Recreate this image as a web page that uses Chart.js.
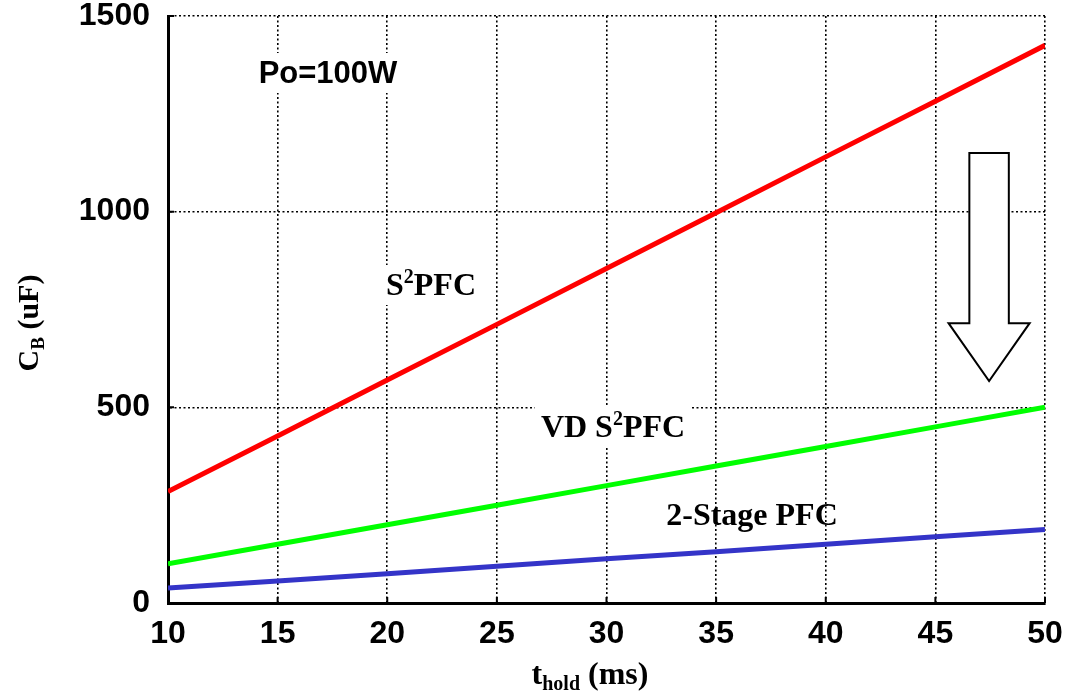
<!DOCTYPE html>
<html>
<head>
<meta charset="utf-8">
<script src="https://cdn.jsdelivr.net/npm/chart.js@4/dist/chart.umd.min.js"></script>
<style>
  html, body { margin: 0; padding: 0; background: #fff; }
  #wrap { width: 1071px; height: 694px; }
</style>
</head>
<body>
<div id="wrap"><canvas id="cb-chart" width="1071" height="694"></canvas></div>
<script>
// hold-up time (ms) and bulk capacitance (uF)
const holdTimes = [10, 15, 20, 25, 30, 35, 40, 45, 50];
const s2pfc = [285, 427, 570, 712, 855, 997, 1140, 1282, 1425];
const vdS2pfc = [100, 150, 200, 250, 300, 350, 400, 450, 500];
const twoStage = [38, 56, 75, 94, 113, 131, 150, 169, 188];

const xTicks = [10, 15, 20, 25, 30, 35, 40, 45, 50];
const yTicks = [0, 500, 1000, 1500];

// big hollow arrow, in data units (t, C)
const arrowBody = { x0: 46.55, x1: 48.35, top: 1150, neck: 715 };
const arrowHead = { x0: 45.6, x1: 49.3, tipX: 47.45, tipY: 567 };

const SANS = '"Liberation Sans", Arial, sans-serif';
const SERIF = '"Liberation Serif", "Times New Roman", serif';

function toPts(arr) {
    return holdTimes.map((t, i) => ({ x: t, y: arr[i] }));
}

// text labels drawn on the plot; bg = white box that breaks the grid
const notes = [
    { parts: [['Po=100W', 0]], font: SANS, x: 328, y: 83, bg: true },
    { parts: [['S', 0], ['2', 1], ['PFC', 0]], font: SERIF, x: 431, y: 295, bg: true },
    { parts: [['VD S', 0], ['2', 1], ['PFC', 0]], font: SERIF, x: 613, y: 437, bg: true },
    { parts: [['2-Stage PFC', 0]], font: SERIF, x: 752, y: 525, bg: false }
];

function drawParts(c, parts, font, size, cx, baseline, align) {
    let w = 0;
    const widths = parts.map(([txt, sup]) => {
        c.font = `bold ${sup ? Math.round(size * 0.62) : size}px ${font}`;
        const m = c.measureText(txt).width;
        w += m;
        return m;
    });
    let x = align === 'center' ? cx - w / 2 : cx;
    parts.forEach(([txt, mode], i) => {
        const s = mode ? Math.round(size * 0.62) : size;
        c.font = `bold ${s}px ${font}`;
        let dy = 0;
        if (mode === 1) dy = -size * 0.38;   // superscript
        if (mode === 2) dy = size * 0.2;     // subscript
        c.fillText(txt, x, baseline + dy);
        x += widths[i];
    });
    return w;
}

const overlay = {
    id: 'overlay',
    beforeDatasetsDraw(chart) {
        const c = chart.ctx;
        c.save();
        notes.forEach(n => {
            if (!n.bg) return;
            let w = 0;
            n.parts.forEach(([txt, sup]) => {
                c.font = `bold ${sup ? 20 : 32}px ${n.font}`;
                w += c.measureText(txt).width;
            });
            c.fillStyle = '#fff';
            c.fillRect(n.x - w / 2 - 6, n.y - 30, w + 12, 40);
        });
        c.restore();
    },
    afterDatasetsDraw(chart) {
        const c = chart.ctx;
        const xs = chart.scales.x, ys = chart.scales.y;
        const area = chart.chartArea;
        c.save();
        c.fillStyle = '#000';
        c.textAlign = 'left';
        c.textBaseline = 'alphabetic';
        notes.forEach(n => {
            drawParts(c, n.parts, n.font, n.font === SANS ? 31 : 32, n.x, n.y, 'center');
        });

        // hollow arrow
        const px = v => xs.getPixelForValue(v);
        const py = v => ys.getPixelForValue(v);
        c.beginPath();
        c.moveTo(px(arrowBody.x0), py(arrowBody.top));
        c.lineTo(px(arrowBody.x1), py(arrowBody.top));
        c.lineTo(px(arrowBody.x1), py(arrowBody.neck));
        c.lineTo(px(arrowHead.x1), py(arrowBody.neck));
        c.lineTo(px(arrowHead.tipX), py(arrowHead.tipY));
        c.lineTo(px(arrowHead.x0), py(arrowBody.neck));
        c.lineTo(px(arrowBody.x0), py(arrowBody.neck));
        c.closePath();
        c.fillStyle = '#fff';
        c.fill();
        c.lineWidth = 2;
        c.strokeStyle = '#000';
        c.lineJoin = 'miter';
        c.stroke();

        // short inward ticks on bottom and left axes
        c.lineWidth = 2;
        c.beginPath();
        xTicks.forEach(t => {
            c.moveTo(px(t), area.bottom);
            c.lineTo(px(t), area.bottom - 6);
        });
        yTicks.forEach(t => {
            c.moveTo(area.left, py(t));
            c.lineTo(area.left + 6, py(t));
        });
        c.stroke();

        // axis titles with subscripts
        c.fillStyle = '#000';
        drawParts(c, [['t', 0], ['hold', 2], [' (ms)', 0]], SERIF, 32, 590, 684, 'center');
        c.translate(38, 323);
        c.rotate(-Math.PI / 2);
        drawParts(c, [['C', 0], ['B', 2], [' (uF)', 0]], SERIF, 30, 0, 0, 'center');
        c.restore();
    }
};

const ctx = document.getElementById('cb-chart').getContext('2d');

new Chart(ctx, {
    type: 'line',
    data: {
        datasets: [
            { label: 'S2PFC', data: toPts(s2pfc), borderColor: '#ff0000', borderWidth: 5, pointRadius: 0, tension: 0 },
            { label: 'VD S2PFC', data: toPts(vdS2pfc), borderColor: '#00ff00', borderWidth: 5, pointRadius: 0, tension: 0 },
            { label: '2-Stage PFC', data: toPts(twoStage), borderColor: '#3434c8', borderWidth: 5, pointRadius: 0, tension: 0 }
        ]
    },
    options: {
        responsive: false,
        animation: false,
        layout: { padding: { top: 16, right: 26, left: 0, bottom: 0 } },
        plugins: {
            legend: { display: false },
            tooltip: { enabled: false }
        },
        scales: {
            x: {
                type: 'linear',
                min: 10, max: 50,
                afterBuildTicks: s => { s.ticks = xTicks.map(v => ({ value: v })); },
                afterFit: s => { s.height = 91; s.paddingLeft = 0; s.paddingRight = 0; },
                ticks: {
                    color: '#000',
                    padding: 12,
                    font: { family: SANS, size: 32, weight: 'bold' },
                    maxRotation: 0,
                    callback: v => String(v)
                },
                grid: { color: '#000', lineWidth: 1.6, drawTicks: false },
                border: { display: true, color: '#000', width: 3, dash: [2, 2.5] }
            },
            y: {
                min: 0, max: 1500,
                afterBuildTicks: s => { s.ticks = yTicks.map(v => ({ value: v })); },
                afterFit: s => { s.width = 168; s.paddingTop = 0; s.paddingBottom = 0; },
                ticks: {
                    color: '#000',
                    padding: 18,
                    font: { family: SANS, size: 32, weight: 'bold' },
                    callback: v => String(v)
                },
                grid: { color: '#000', lineWidth: 1.6, drawTicks: false },
                border: { display: true, color: '#000', width: 3, dash: [2, 2.5] }
            }
        }
    },
    plugins: [overlay]
});
</script>
</body>
</html>
